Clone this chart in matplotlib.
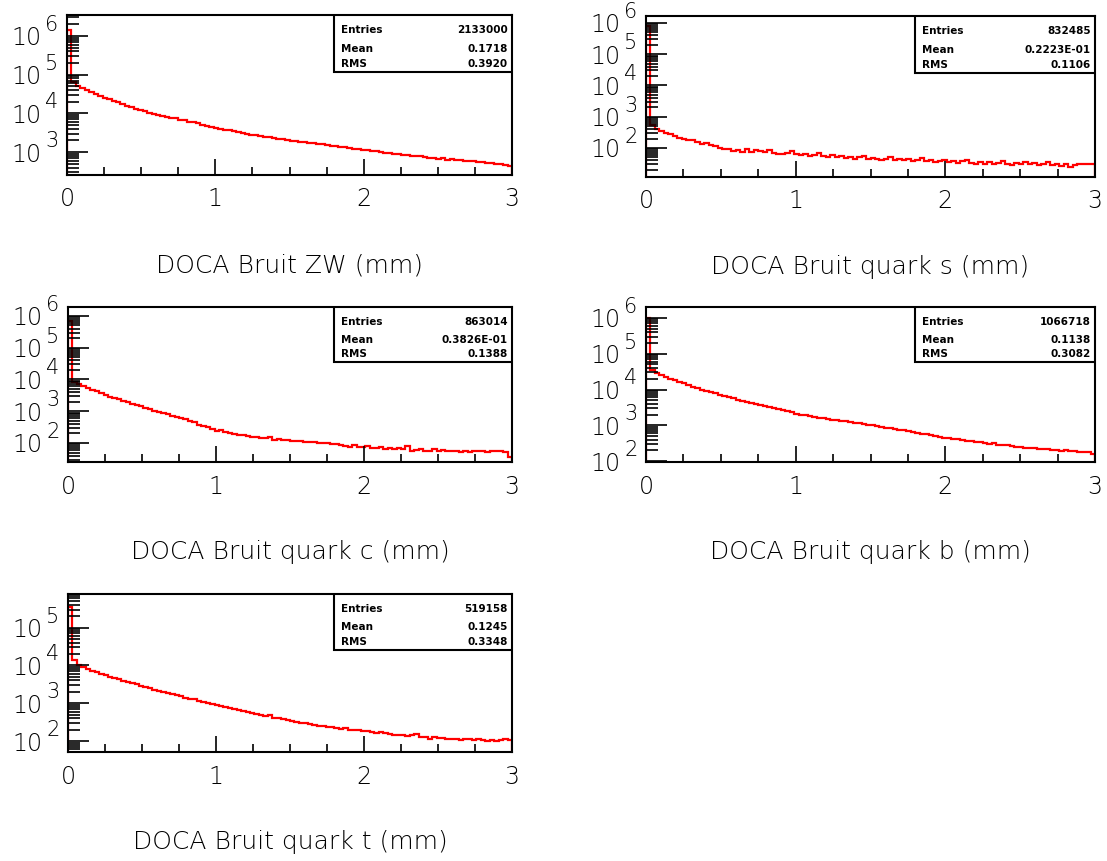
import numpy as np
import matplotlib
matplotlib.use("Agg")
import matplotlib.pyplot as plt
from matplotlib.ticker import LogLocator, MultipleLocator, FixedLocator, NullFormatter
from matplotlib.patches import Rectangle

plt.rcParams['font.family'] = ['DejaVu Sans']

# ---------------- data (log10 of bin contents) ----------------
bin_edges = np.linspace(0.0, 3.0, 101)

zw_log10 = [6.15, 4.81, 4.71, 4.65, 4.60, 4.55, 4.51, 4.46, 4.41, 4.37,
            4.33, 4.29, 4.24, 4.20, 4.16, 4.12, 4.08, 4.05, 4.02, 3.99,
            3.97, 3.94, 3.92, 3.89, 3.87, 3.84, 3.82, 3.79, 3.77, 3.74,
            3.71, 3.68, 3.65, 3.62, 3.60, 3.58, 3.56, 3.54, 3.52, 3.49,
            3.47, 3.45, 3.43, 3.41, 3.40, 3.38, 3.37, 3.35, 3.33, 3.32,
            3.30, 3.29, 3.27, 3.26, 3.24, 3.23, 3.21, 3.20, 3.18, 3.17,
            3.15, 3.14, 3.12, 3.11, 3.09, 3.08, 3.06, 3.05, 3.04, 3.02,
            3.01, 2.99, 2.98, 2.96, 2.95, 2.93, 2.92, 2.91, 2.89, 2.90,
            2.87, 2.86, 2.85, 2.83, 2.84, 2.81, 2.82, 2.79, 2.80, 2.78,
            2.76, 2.77, 2.74, 2.75, 2.72, 2.71, 2.70, 2.69, 2.66, 2.63]

qs_log10 = [5.90, 2.74, 2.62, 2.55, 2.48, 2.45, 2.38, 2.33, 2.30, 2.26,
            2.25, 2.20, 2.13, 2.17, 2.10, 2.05, 2.00, 1.97, 1.95, 1.90,
            1.93, 1.88, 1.95, 1.87, 1.92, 1.90, 1.88, 1.93, 1.85, 1.79,
            1.82, 1.84, 1.90, 1.80, 1.77, 1.81, 1.74, 1.78, 1.85, 1.75,
            1.72, 1.76, 1.70, 1.74, 1.68, 1.72, 1.66, 1.70, 1.74, 1.64,
            1.68, 1.66, 1.60, 1.65, 1.72, 1.62, 1.66, 1.60, 1.64, 1.58,
            1.62, 1.67, 1.57, 1.61, 1.55, 1.59, 1.62, 1.54, 1.58, 1.52,
            1.57, 1.60, 1.53, 1.49, 1.55, 1.50, 1.56, 1.48, 1.53, 1.58,
            1.50, 1.46, 1.52, 1.49, 1.55, 1.47, 1.52, 1.45, 1.50, 1.54,
            1.46, 1.49, 1.43, 1.48, 1.40, 1.45, 1.48, 1.47, 1.49, 1.48]

qc_log10 = [5.85, 3.92, 3.85, 3.79, 3.73, 3.68, 3.62, 3.57, 3.51, 3.46,
            3.42, 3.37, 3.33, 3.28, 3.24, 3.19, 3.15, 3.11, 3.07, 3.02,
            2.98, 2.94, 2.90, 2.86, 2.82, 2.78, 2.74, 2.70, 2.66, 2.58,
            2.54, 2.50, 2.44, 2.38, 2.40, 2.33, 2.30, 2.28, 2.26, 2.24,
            2.22, 2.20, 2.18, 2.14, 2.15, 2.20, 2.10, 2.12, 2.08, 2.09,
            2.06, 2.05, 2.07, 2.03, 2.02, 2.04, 2.00, 1.99, 2.00, 1.97,
            1.96, 1.94, 1.90, 1.88, 1.92, 1.88, 1.86, 1.89, 1.85, 1.84,
            1.87, 1.82, 1.83, 1.80, 1.84, 1.80, 1.90, 1.75, 1.78, 1.80,
            1.74, 1.76, 1.80, 1.75, 1.77, 1.74, 1.76, 1.75, 1.73, 1.74,
            1.72, 1.76, 1.74, 1.75, 1.73, 1.76, 1.75, 1.74, 1.70, 1.55]

qb_log10 = [6.00, 4.54, 4.46, 4.40, 4.35, 4.30, 4.26, 4.21, 4.17, 4.12,
            4.08, 4.04, 4.00, 3.96, 3.92, 3.89, 3.85, 3.82, 3.78, 3.75,
            3.72, 3.69, 3.66, 3.63, 3.60, 3.58, 3.55, 3.52, 3.49, 3.46,
            3.43, 3.40, 3.36, 3.32, 3.30, 3.28, 3.26, 3.24, 3.22, 3.20,
            3.18, 3.16, 3.14, 3.13, 3.11, 3.10, 3.08, 3.06, 3.04, 3.02,
            3.00, 2.98, 2.96, 2.94, 2.92, 2.90, 2.88, 2.86, 2.85, 2.83,
            2.80, 2.77, 2.75, 2.73, 2.70, 2.68, 2.66, 2.64, 2.62, 2.61,
            2.59, 2.57, 2.56, 2.54, 2.53, 2.51, 2.49, 2.51, 2.46, 2.45,
            2.44, 2.42, 2.41, 2.40, 2.38, 2.37, 2.36, 2.35, 2.34, 2.33,
            2.32, 2.31, 2.28, 2.31, 2.29, 2.28, 2.27, 2.26, 2.25, 2.19]

qt_log10 = [5.55, 4.15, 4.02, 3.96, 3.90, 3.86, 3.82, 3.78, 3.74, 3.70,
            3.67, 3.63, 3.60, 3.57, 3.53, 3.50, 3.46, 3.43, 3.39, 3.36,
            3.33, 3.30, 3.27, 3.24, 3.21, 3.18, 3.15, 3.12, 3.10, 3.07,
            3.04, 3.01, 2.98, 2.95, 2.92, 2.89, 2.87, 2.84, 2.82, 2.79,
            2.77, 2.74, 2.72, 2.69, 2.66, 2.68, 2.62, 2.60, 2.58, 2.56,
            2.53, 2.51, 2.49, 2.47, 2.45, 2.43, 2.41, 2.40, 2.38, 2.36,
            2.35, 2.33, 2.34, 2.30, 2.28, 2.29, 2.26, 2.27, 2.23, 2.22,
            2.23, 2.20, 2.19, 2.17, 2.17, 2.15, 2.14, 2.15, 2.19, 2.12,
            2.10, 2.06, 2.11, 2.08, 2.07, 2.06, 2.05, 2.06, 2.04, 2.05,
            2.06, 2.02, 2.05, 2.03, 2.01, 2.04, 1.99, 2.03, 2.06, 2.04]

titles = ["DOCA Bruit ZW (mm)", "DOCA Bruit quark s (mm)", "DOCA Bruit quark c (mm)",
          "DOCA Bruit quark b (mm)", "DOCA Bruit quark t (mm)"]
entries = ["2133000", "832485", "863014", "1066718", "519158"]
means = ["0.1718", "0.2223E-01", "0.3826E-01", "0.1138", "0.1245"]
rms = ["0.3920", "0.1106", "0.1388", "0.3082", "0.3348"]
series = [zw_log10, qs_log10, qc_log10, qb_log10, qt_log10]

# y-range (log10) and labelled decades for each panel
ylims = [(2.41, 6.54), (1.07, 6.22), (1.40, 6.28), (1.98, 6.30), (1.71, 5.89)]
decades = [[3, 4, 5, 6], [2, 3, 4, 5, 6], [2, 3, 4, 5, 6], [2, 3, 4, 5, 6], [2, 3, 4, 5]]

# panel frames in pixels (left, top, right, bottom)
W, H = 1107, 861
frames = [(67, 15, 512, 175), (646, 16, 1095, 177),
          (68, 307, 512, 462), (646, 307, 1095, 462),
          (68, 594, 512, 752)]

LABEL_FONT = dict(family='DejaVu Sans', weight='light')

fig = plt.figure(figsize=(W / 100, H / 100), dpi=100)

for i in range(5):
    l, t, r, b = frames[i]
    ax = fig.add_axes([l / W, 1 - b / H, (r - l) / W, (b - t) / H])
    counts = 10.0 ** np.asarray(series[i])
    ax.stairs(counts, bin_edges, color='red', linewidth=1.6)
    ax.set_yscale('log')
    ax.set_xlim(0, 3)
    ax.set_ylim(10 ** ylims[i][0], 10 ** ylims[i][1])

    ax.xaxis.set_major_locator(FixedLocator([0, 1, 2, 3]))
    ax.xaxis.set_minor_locator(MultipleLocator(0.25))
    ax.set_xticklabels(['0', '1', '2', '3'], fontdict=LABEL_FONT)
    ax.yaxis.set_major_locator(FixedLocator([10.0 ** d for d in decades[i]]))
    ax.set_yticklabels(['10'] * len(decades[i]), fontdict=LABEL_FONT)
    ax.yaxis.set_minor_locator(LogLocator(base=10, subs=np.arange(2, 10), numticks=20))
    ax.yaxis.set_minor_formatter(NullFormatter())

    ax.tick_params(axis='both', which='both', direction='in', top=False, right=False,
                   width=1.2, colors='black')
    ax.tick_params(axis='x', which='major', length=11.5, pad=9, labelsize=17)
    ax.tick_params(axis='x', which='minor', length=5.8)
    ax.tick_params(axis='y', which='major', length=15, pad=18, labelsize=17)
    ax.tick_params(axis='y', which='minor', length=8.6)
    for s in ax.spines.values():
        s.set_linewidth(1.5)

    # decade exponents, raised beside the "10" tick labels
    for d in decades[i]:
        ax.annotate(str(d), xy=(0, 10.0 ** d), xycoords=('axes fraction', 'data'),
                    xytext=(-15.5, 8), textcoords='offset points',
                    ha='left', va='center', fontsize=15, fontweight='light')

    ax.set_xlabel(titles[i], fontsize=18, fontweight='light')
    ax.xaxis.set_label_coords(0.5, -90 / (b - t))
    ax.xaxis.label.set_verticalalignment('center')

    # statistics box
    ax.add_patch(Rectangle((0.6, 0.644), 0.4, 0.356, transform=ax.transAxes,
                           facecolor='white', edgecolor='black', linewidth=1.5, zorder=5))
    rows = [("Entries", entries[i]), ("Mean", means[i]), ("RMS", rms[i])]
    ys = [0.905, 0.79, 0.695]
    for (k, v), yy in zip(rows, ys):
        ax.text(0.615, yy, k, transform=ax.transAxes, fontsize=7.5, fontweight='bold',
                ha='left', va='center', zorder=6)
        ax.text(0.99, yy, v, transform=ax.transAxes, fontsize=7.5, fontweight='bold',
                ha='right', va='center', zorder=6)

fig.savefig("out.png", dpi=100)
